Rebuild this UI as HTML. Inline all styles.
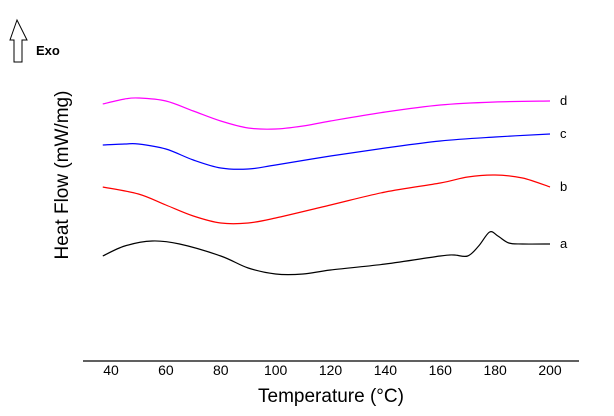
<!DOCTYPE html>
<html><head><meta charset="utf-8"><style>
html,body{margin:0;padding:0;background:#fff;}
svg{display:block;font-family:"Liberation Sans",Arial,sans-serif;}
</style></head><body>
<svg id="chart" width="614" height="416">
<g>
<polygon points="17,20 10,40 14,40 14,62 22,62 22,40 27,40" fill="none" stroke="#000" stroke-width="1"/>
<text x="36" y="55" font-size="13" font-weight="bold">Exo</text>
</g>
<line x1="83" y1="361" x2="579" y2="361" stroke="#000" stroke-width="1.2"/>
<g id="ticks"></g>
<g id="series"></g>
<text x="331" y="402" font-size="19" text-anchor="middle">Temperature (°C)</text>
<text transform="translate(68,175) rotate(-90)" font-size="19" text-anchor="middle">Heat Flow (mW/mg)</text>
</svg>
<script>
const xTicks=[40,60,80,100,120,140,160,180,200];
const seriesNames=['d','c','b','a'];
const seriesColors=['#ff00ff','#0000ff','#ff0000','#000000'];
const tD=[37,45,50,60,70,80,90,100,110,120,140,160,180,200];
const vD=[25.7,26.2,26.3,26.0,25.0,24.0,23.3,23.2,23.5,24.0,24.9,25.6,25.9,26.0];
const tC=[37,45,50,60,70,80,90,100,120,140,160,180,200];
const vC=[21.6,21.7,21.7,21.2,20.1,19.3,19.2,19.6,20.5,21.3,22.0,22.4,22.7];
const tB=[37,50,60,70,80,90,100,120,140,160,170,180,190,200];
const vB=[17.4,16.7,15.6,14.5,13.8,13.8,14.3,15.6,16.9,17.8,18.4,18.6,18.3,17.4];
const tA=[37,45,55,65,80,90,100,110,120,140,160,165,170,174,178,181,185,190,200];
const vA=[10.5,11.5,12.0,11.7,10.5,9.3,8.7,8.7,9.1,9.7,10.5,10.6,10.5,11.5,12.9,12.5,11.8,11.7,11.7];
const allT=[tD,tC,tB,tA], allV=[vD,vC,vB,vA];
const xs=t=>111+(t-40)*(439/160);
const ys=v=>361-v*10;
const NS='http://www.w3.org/2000/svg';
const tg=document.getElementById('ticks');
xTicks.forEach(t=>{const e=document.createElementNS(NS,'text');
e.setAttribute('x',xs(t));e.setAttribute('y',375);e.setAttribute('font-size','14');e.setAttribute('text-anchor','middle');


e.textContent=t;tg.appendChild(e);});
function path(p){let d='M'+p[0][0]+','+p[0][1];
for(let i=0;i<p.length-1;i++){const p0=p[Math.max(0,i-1)],p1=p[i],p2=p[i+1],p3=p[Math.min(p.length-1,i+2)];
d+=' C'+(p1[0]+(p2[0]-p0[0])/6)+','+(p1[1]+(p2[1]-p0[1])/6)+' '+(p2[0]-(p3[0]-p1[0])/6)+','+(p2[1]-(p3[1]-p1[1])/6)+' '+p2[0]+','+p2[1];}
return d;}
const sg=document.getElementById('series');
allT.forEach((ts,k)=>{const pts=ts.map((t,i)=>[xs(t),ys(allV[k][i])]);
const p=document.createElementNS(NS,'path');p.setAttribute('d',path(pts));p.setAttribute('fill','none');
p.setAttribute('stroke',seriesColors[k]);p.setAttribute('stroke-width','1.2');


sg.appendChild(p);
const l=document.createElementNS(NS,'text');const last=pts[pts.length-1];
l.setAttribute('x',last[0]+10);l.setAttribute('y',last[1]+4);l.setAttribute('font-size','13');


l.textContent=seriesNames[k];sg.appendChild(l);});
</script>
</body></html>
